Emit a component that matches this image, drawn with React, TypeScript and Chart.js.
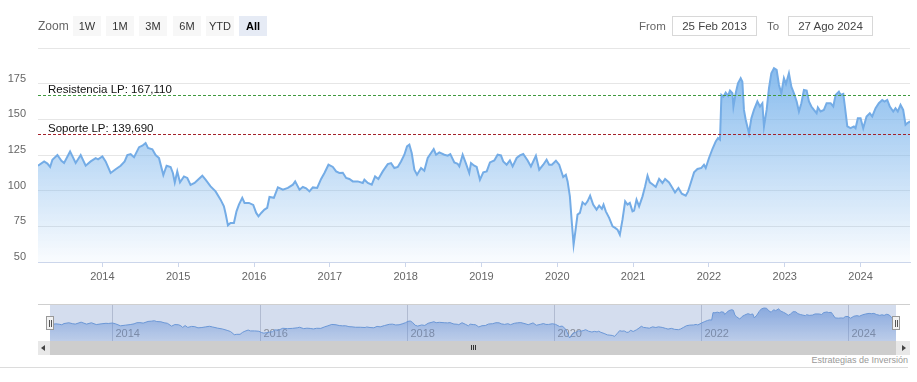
import React, { useEffect, useRef } from "react";
import { Chart, registerables } from "chart.js";

Chart.register(...registerables);

// Time of each observation, in decimal years
const timeYears = [
  2013.151, 2013.232, 2013.275, 2013.311, 2013.341, 2013.407, 2013.46, 2013.495, 2013.574, 2013.648,
  2013.714, 2013.78, 2013.846, 2013.912, 2013.943, 2014.0, 2014.043, 2014.109, 2014.175, 2014.241,
  2014.294, 2014.329, 2014.373, 2014.418, 2014.484, 2014.527, 2014.57, 2014.602, 2014.659, 2014.702,
  2014.747, 2014.804, 2014.847, 2014.9, 2014.93, 2014.955, 2014.988, 2015.024, 2015.076, 2015.12,
  2015.163, 2015.216, 2015.261, 2015.318, 2015.361, 2015.427, 2015.493, 2015.559, 2015.603, 2015.625,
  2015.656, 2015.69, 2015.735, 2015.769, 2015.801, 2015.845, 2015.875, 2015.933, 2015.99, 2016.029,
  2016.059, 2016.095, 2016.138, 2016.174, 2016.204, 2016.262, 2016.315, 2016.381, 2016.447, 2016.513,
  2016.543, 2016.6, 2016.644, 2016.688, 2016.731, 2016.776, 2016.833, 2016.885, 2016.929, 2016.982,
  2017.04, 2017.083, 2017.126, 2017.171, 2017.215, 2017.258, 2017.303, 2017.369, 2017.435, 2017.456,
  2017.501, 2017.553, 2017.597, 2017.64, 2017.698, 2017.764, 2017.808, 2017.851, 2017.896, 2017.939,
  2017.983, 2018.018, 2018.049, 2018.08, 2018.115, 2018.15, 2018.203, 2018.246, 2018.291, 2018.37,
  2018.401, 2018.444, 2018.51, 2018.555, 2018.589, 2018.642, 2018.686, 2018.708, 2018.752, 2018.796,
  2018.839, 2018.862, 2018.905, 2018.937, 2018.98, 2019.024, 2019.069, 2019.112, 2019.169, 2019.213,
  2019.257, 2019.287, 2019.332, 2019.375, 2019.411, 2019.464, 2019.507, 2019.551, 2019.609, 2019.652,
  2019.718, 2019.762, 2019.815, 2019.859, 2019.893, 2019.929, 2019.982, 2020.025, 2020.078, 2020.113,
  2020.136, 2020.166, 2020.192, 2020.215, 2020.236, 2020.267, 2020.298, 2020.333, 2020.368, 2020.399,
  2020.433, 2020.473, 2020.518, 2020.552, 2020.588, 2020.61, 2020.64, 2020.684, 2020.729, 2020.763,
  2020.794, 2020.825, 2020.86, 2020.895, 2020.926, 2020.957, 2020.992, 2021.013, 2021.045, 2021.079,
  2021.124, 2021.158, 2021.19, 2021.22, 2021.263, 2021.299, 2021.343, 2021.387, 2021.422, 2021.474,
  2021.519, 2021.553, 2021.598, 2021.642, 2021.694, 2021.725, 2021.76, 2021.804, 2021.849, 2021.901,
  2021.935, 2021.958, 2022.001, 2022.046, 2022.09, 2022.12, 2022.146, 2022.165, 2022.191, 2022.221,
  2022.252, 2022.278, 2022.31, 2022.323, 2022.353, 2022.383, 2022.419, 2022.441, 2022.462, 2022.485,
  2022.528, 2022.56, 2022.594, 2022.639, 2022.673, 2022.705, 2022.726, 2022.761, 2022.792, 2022.823,
  2022.858, 2022.893, 2022.924, 2022.955, 2022.989, 2023.016, 2023.055, 2023.087, 2023.121, 2023.157,
  2023.187, 2023.219, 2023.253, 2023.289, 2023.319, 2023.351, 2023.385, 2023.42, 2023.437, 2023.473,
  2023.516, 2023.552, 2023.605, 2023.64, 2023.671, 2023.714, 2023.736, 2023.772, 2023.793, 2023.825,
  2023.868, 2023.912, 2023.934, 2023.964, 2024.0, 2024.035, 2024.079, 2024.122, 2024.154, 2024.198,
  2024.241, 2024.286, 2024.316, 2024.352, 2024.386, 2024.431, 2024.461, 2024.491, 2024.527, 2024.562,
  2024.593, 2024.615, 2024.652,
];

// Price at each observation
const prices = [
  117.5, 120.5, 119, 116.6, 121.7, 125, 121, 119.5, 127.5, 119.4,
  125, 117.5, 120.5, 122.8, 122, 124, 120.5, 112.4, 115, 117.5,
  120.5, 125, 125.6, 123.5, 130.5, 131.5, 133.3, 130, 129, 125,
  122.8, 111, 117.5, 116.6, 112.4, 105.8, 113.5, 105.8, 110, 108.9,
  104, 105.4, 107.7, 110.5, 107.7, 103, 99.5, 93.7, 89, 84,
  75.7, 77.4, 77.4, 85.5, 90.2, 95, 91.4, 91.4, 90, 84.4,
  82, 84.4, 86.7, 88, 95.6, 95, 102.3, 100.7, 101.9, 104.2,
  106.5, 100.7, 102.6, 101.6, 99.5, 102.3, 101.9, 108.2, 112.4, 118.2,
  116.6, 113.5, 112.4, 112.6, 108.9, 108.2, 106.5, 106.5, 105.4, 107.7,
  105.4, 104.2, 110, 108.2, 113.5, 118.6, 119.3, 115.9, 116.6, 120.5,
  125.2, 131, 132.2, 126.4, 114.7, 111.2, 115.9, 114, 122.9, 129.2,
  125.2, 126.8, 125.2, 124.5, 125.6, 119.8, 118.9, 117, 125.2, 119,
  112.4, 119.3, 117.5, 116.6, 107.7, 112.8, 113.5, 119.8, 121.2, 125.2,
  124.7, 120.5, 118.2, 121.2, 117, 122.9, 124.7, 125.7, 121.2, 117,
  124.5, 114.7, 118.2, 121.7, 118.2, 118.2, 121, 118.2, 109.6, 111.2,
  106.5, 96, 77.4, 62.2, 70.4, 83.2, 84.4, 91.8, 90.2, 92.5,
  96.5, 90.2, 86.7, 89.5, 87.2, 90.2, 85.5, 80.9, 75, 73.9,
  72.7, 69.2, 79.7, 92.5, 90.2, 91.4, 85.5, 86, 93.7, 89,
  96, 103, 110.5, 105.8, 104.2, 102.6, 108.2, 105.4, 108.2, 105.8,
  101.9, 98.8, 101.9, 97.9, 96.5, 99.5, 105.4, 112.8, 115.2, 115.9,
  118.2, 115.9, 122.9, 129.2, 134.5, 136.9, 135.7, 167.1, 165.9, 168.7,
  166.4, 170.1, 168.3, 159, 168.3, 175.3, 178.8, 176.4, 156.6, 149.7,
  140.3, 150.8, 156.6, 162.5, 159, 161.3, 145, 156.6, 171.8, 182.3,
  185.8, 184.6, 174.1, 168.3, 178.8, 174.8, 182.3, 172.9, 168.3, 162.5,
  155.5, 161.3, 170.6, 170.1, 162.5, 159, 156.6, 154.3, 158.3, 155.5,
  156.6, 161.3, 161.3, 159, 167.1, 169.4, 167.1, 167.8, 159, 145,
  143.8, 145, 143.8, 150.8, 150.8, 143.8, 152, 154.3, 152, 157.8,
  161.3, 163.6, 162.5, 163.6, 159, 155.5, 157.8, 155.5, 160.2, 156.6,
  146.2, 147.3, 148.5,
];

const startTime = 2013.151; // 25 Feb 2013
const endTime = 2024.652; // 27 Aug 2024
const yearTicks = [2014, 2015, 2016, 2017, 2018, 2019, 2020, 2021, 2022, 2023, 2024];
const navYearTicks = [2014, 2016, 2018, 2020, 2022, 2024];
const yTicks = [50, 75, 100, 125, 150, 175, 200];
const yMin = 50;
const yMax = 200;

const plotLineValues = [167.11, 139.69];
const plotLineLabels = ["Resistencia LP: 167,110", "Soporte LP: 139,690"];
const plotLineColors = ["#3f9a3f", "#a3212b"];

const zoomButtons = ["1W", "1M", "3M", "6M", "YTD", "All"];
const selectedButton = "All";
const fromDate = "25 Feb 2013";
const toDate = "27 Ago 2024";
const creditText = "Estrategias de Inversión";

const FONT = "'Liberation Sans', Arial, sans-serif";

const plotLinesPlugin = {
  id: "plotLines",
  afterDatasetsDraw(chart: any) {
    const { ctx, chartArea, scales } = chart;
    ctx.save();
    plotLineValues.forEach((v, i) => {
      const y = Math.round(scales.y.getPixelForValue(v)) + 0.5;
      ctx.strokeStyle = plotLineColors[i];
      ctx.lineWidth = 1;
      ctx.setLineDash([3, 2]);
      ctx.beginPath();
      ctx.moveTo(chartArea.left, y);
      ctx.lineTo(chartArea.right, y);
      ctx.stroke();
      ctx.setLineDash([]);
      ctx.fillStyle = "#111";
      ctx.font = `11.5px ${FONT}`;
      ctx.textAlign = "left";
      ctx.textBaseline = "alphabetic";
      ctx.fillText(plotLineLabels[i], chartArea.left + 10, y - 3);
    });
    ctx.restore();
  },
};

const navPlugin = {
  id: "navDecor",
  beforeDatasetsDraw(chart: any) {
    const { ctx, chartArea, scales } = chart;
    ctx.save();
    ctx.fillStyle = "rgba(102,133,194,0.28)";
    ctx.fillRect(chartArea.left, chartArea.top, chartArea.right - chartArea.left, chartArea.bottom - chartArea.top);
    ctx.strokeStyle = "rgba(150,160,185,0.55)";
    ctx.lineWidth = 1;
    ctx.font = `11px ${FONT}`;
    ctx.fillStyle = "#8a8e99";
    ctx.textAlign = "left";
    ctx.textBaseline = "alphabetic";
    navYearTicks.forEach((yr) => {
      const x = Math.round(scales.x.getPixelForValue(yr)) + 0.5;
      ctx.beginPath();
      ctx.moveTo(x, chartArea.top);
      ctx.lineTo(x, chartArea.bottom);
      ctx.stroke();
      ctx.fillText(String(yr), x + 3, chartArea.top + 32);
    });
    ctx.restore();
  },
};

export default function App() {
  const mainRef = useRef<HTMLCanvasElement | null>(null);
  const navRef = useRef<HTMLCanvasElement | null>(null);

  useEffect(() => {
    if (!mainRef.current || !navRef.current) return;
    const points = timeYears.map((t, i) => ({ x: t, y: prices[i] }));

    const main = new Chart(mainRef.current, {
      type: "line",
      data: {
        datasets: [
          {
            data: points,
            borderColor: "#74acе6".replace("е", "e"),
            borderWidth: 2,
            pointRadius: 0,
            tension: 0,
            fill: "start",
            backgroundColor: (context: any) => {
              const { chart } = context;
              const { ctx, chartArea } = chart;
              if (!chartArea) return "rgba(124,181,236,0.5)";
              const g = ctx.createLinearGradient(0, chartArea.top, 0, chartArea.bottom);
              g.addColorStop(0, "rgba(124,181,236,1)");
              g.addColorStop(1, "rgba(124,181,236,0.04)");
              return g;
            },
          },
        ],
      },
      options: {
        animation: false,
        responsive: false,
        maintainAspectRatio: false,
        layout: { padding: { left: 0, right: 7, top: 48, bottom: 8 } },
        plugins: { legend: { display: false }, tooltip: { enabled: false } },
        scales: {
          x: {
            type: "linear",
            min: startTime,
            max: endTime,
            afterBuildTicks: (s: any) => {
              s.ticks = yearTicks.map((v) => ({ value: v }));
            },
            afterFit: (s: any) => {
              s.height = 30;
            },
            grid: { display: true, drawOnChartArea: false, drawTicks: true, tickLength: 5, color: "#ccd6eb" },
            border: { display: true, color: "#ccd6eb" },
            ticks: {
              callback: (v: any) => String(v),
              color: "#666",
              font: { family: FONT, size: 11 },
              padding: 3,
              maxRotation: 0,
              autoSkip: false,
            },
          },
          y: {
            min: yMin,
            max: yMax,
            afterBuildTicks: (s: any) => {
              s.ticks = yTicks.map((v) => ({ value: v }));
            },
            afterFit: (s: any) => {
              s.width = 38;
            },
            grid: { color: "#e6e6e6", drawTicks: false },
            border: { display: false },
            ticks: {
              callback: (v: any) => (v === yMax ? "" : String(v)),
              labelOffset: -5,
              padding: 12,
              color: "#666",
              font: { family: FONT, size: 11 },
            },
          },
        },
      },
      plugins: [plotLinesPlugin],
    });

    const navMin = Math.min(...prices);
    const navMax = Math.max(...prices);
    const pad = (navMax - navMin) * 0.1;

    const nav = new Chart(navRef.current, {
      type: "line",
      data: {
        datasets: [
          {
            data: points,
            borderColor: "#6b97d6",
            borderWidth: 1,
            pointRadius: 0,
            tension: 0,
            fill: "start",
            backgroundColor: (context: any) => {
              const { chart } = context;
              const { ctx, chartArea } = chart;
              if (!chartArea) return "rgba(80,130,210,0.4)";
              const g = ctx.createLinearGradient(0, chartArea.top, 0, chartArea.bottom);
              g.addColorStop(0, "rgba(80,130,210,0.6)");
              g.addColorStop(1, "rgba(80,130,210,0.18)");
              return g;
            },
          },
        ],
      },
      options: {
        animation: false,
        responsive: false,
        maintainAspectRatio: false,
        layout: { padding: 0 },
        plugins: { legend: { display: false }, tooltip: { enabled: false } },
        scales: {
          x: { type: "linear", display: false, min: startTime, max: endTime },
          y: { display: false, min: navMin - pad, max: navMax + pad },
        },
      },
      plugins: [navPlugin],
    });

    return () => {
      main.destroy();
      nav.destroy();
    };
  }, []);

  const abs = (s: any): any => ({ position: "absolute", ...s });
  const btnLefts = [73, 106, 139, 173, 206, 239];

  return (
    <div
      style={{
        position: "fixed",
        left: 0,
        top: 0,
        width: 917,
        height: 382,
        background: "#fff",
        fontFamily: FONT,
        overflow: "hidden",
      }}
    >
      <canvas ref={mainRef} width={917} height={300} style={abs({ left: 0, top: 0, width: 917, height: 300 })} />

      {/* range selector */}
      <div style={abs({ left: 38, top: 16, height: 20, lineHeight: "20px", fontSize: 12, color: "#666" })}>Zoom</div>
      {zoomButtons.map((b, i) => (
        <div
          key={b}
          style={abs({
            left: btnLefts[i],
            top: 16,
            width: 28,
            height: 20,
            lineHeight: "20px",
            textAlign: "center",
            fontSize: 11,
            background: b === selectedButton ? "#e6ebf5" : "#f7f7f7",
            color: b === selectedButton ? "#000" : "#333",
            fontWeight: b === selectedButton ? "bold" : "normal",
          })}
        >
          {b}
        </div>
      ))}
      <div style={abs({ left: 639, top: 16, height: 20, lineHeight: "20px", fontSize: 11.5, color: "#666" })}>From</div>
      <div
        style={abs({
          left: 672,
          top: 16,
          width: 85,
          height: 20,
          boxSizing: "border-box",
          border: "1px solid #d8d8d8",
          lineHeight: "18px",
          textAlign: "center",
          fontSize: 11.5,
          color: "#444",
        })}
      >
        {fromDate}
      </div>
      <div style={abs({ left: 767, top: 16, height: 20, lineHeight: "20px", fontSize: 11.5, color: "#666" })}>To</div>
      <div
        style={abs({
          left: 788,
          top: 16,
          width: 85,
          height: 20,
          boxSizing: "border-box",
          border: "1px solid #d8d8d8",
          lineHeight: "18px",
          textAlign: "center",
          fontSize: 11.5,
          color: "#444",
        })}
      >
        {toDate}
      </div>

      {/* navigator */}
      <div style={abs({ left: 38, top: 304, width: 872, height: 1, background: "#cfcfcf" })} />
      <canvas ref={navRef} width={846} height={36} style={abs({ left: 50, top: 305, width: 846, height: 36 })} />
      {[50, 896].map((cx) => (
        <div
          key={cx}
          style={abs({
            left: cx - 4,
            top: 316,
            width: 8,
            height: 14,
            boxSizing: "border-box",
            background: "#f2f2f2",
            border: "1px solid #999",
            zIndex: 2,
          })}
        >
          <div style={abs({ left: 2, top: 3, width: 1, height: 7, background: "#555" })} />
          <div style={abs({ left: 4, top: 3, width: 1, height: 7, background: "#555" })} />
        </div>
      ))}

      {/* scrollbar */}
      <div style={abs({ left: 38, top: 341, width: 872, height: 14, background: "#e8e8e8" })} />
      <div style={abs({ left: 50, top: 341, width: 846, height: 14, background: "#cdcdcd" })} />
      <div
        style={abs({
          left: 41,
          top: 345,
          width: 0,
          height: 0,
          borderTop: "3px solid transparent",
          borderBottom: "3px solid transparent",
          borderRight: "4px solid #444",
        })}
      />
      <div
        style={abs({
          left: 902,
          top: 345,
          width: 0,
          height: 0,
          borderTop: "3px solid transparent",
          borderBottom: "3px solid transparent",
          borderLeft: "4px solid #444",
        })}
      />
      {[471, 473, 475].map((x) => (
        <div key={x} style={abs({ left: x, top: 345, width: 1, height: 5, background: "#333" })} />
      ))}

      <div style={abs({ right: 9, top: 355, fontSize: 9, color: "#999", whiteSpace: "nowrap" })}>{creditText}</div>
      <div style={abs({ left: 0, top: 367, width: 908, height: 1, background: "#dcdcdc" })} />
    </div>
  );
}
